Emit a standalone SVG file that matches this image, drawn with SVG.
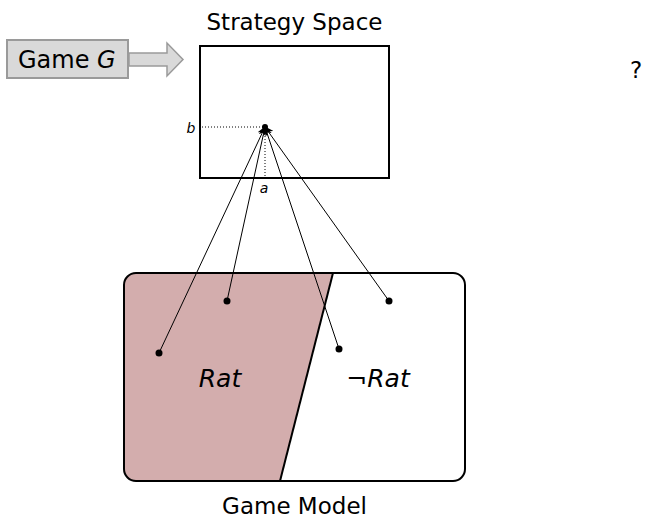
<svg xmlns="http://www.w3.org/2000/svg" width="645" height="519" viewBox="0 0 645 519">
  <style>
    text { font-family: "DejaVu Sans", "Liberation Sans", sans-serif; fill: #000; }
    .title { font-size: 23px; }
    .it { font-style: italic; }
    .box { fill: #fff; stroke: #000; stroke-width: 2; }
    .link { stroke: #000; stroke-width: 1; fill: none; marker-end: url(#head); }
    .guide { stroke: #000; stroke-width: 1; stroke-dasharray: 1 2; fill: none; }
    .dot { fill: #000; }
  </style>
  <defs>
    <marker id="head" viewBox="0 0 10 10" refX="9" refY="5" markerWidth="9" markerHeight="9" markerUnits="userSpaceOnUse" orient="auto">
      <path d="M0,0 L10,5 L0,10 L3,5 Z" fill="#000"/>
    </marker>
    <clipPath id="modelClip">
      <rect x="124" y="273" width="341" height="208" rx="12"/>
    </clipPath>
  </defs>

  <!-- input game -->
  <g id="game">
    <rect x="7" y="40" width="121" height="38" fill="#d9d9d9" stroke="#9a9a9a" stroke-width="2"/>
    <text x="18" y="68" font-size="24">Game <tspan class="it">G</tspan></text>
  </g>
  <g id="feed">
    <path d="M129,53 L167,53 L167,43 L183,59.5 L167,76 L167,66 L129,66 Z" fill="#d9d9d9" stroke="#9a9a9a" stroke-width="1.5"/>
  </g>

  <!-- strategy space -->
  <g id="strategy-space">
    <text class="title" x="294.5" y="30" text-anchor="middle">Strategy Space</text>
    <rect class="box" x="200" y="46" width="189" height="132"/>
    <line class="guide" x1="202" y1="127" x2="265" y2="127"/>
    <line class="guide" x1="265" y1="127" x2="265" y2="177"/>
    <text class="it" x="191" y="133" font-size="14" text-anchor="middle">b</text>
    <text class="it" x="264" y="193" font-size="14" text-anchor="middle">a</text>
    <circle class="dot" cx="265" cy="127" r="3"/>
  </g>

  <g id="unknown">
    <text x="636" y="78" font-size="23" text-anchor="middle">?</text>
  </g>

  <!-- game model -->
  <g id="game-model">
    <rect x="124" y="273" width="341" height="208" rx="12" fill="#fff"/>
    <polygon points="110,260 333,273 280,481 110,495" fill="#d3adad" clip-path="url(#modelClip)"/>
    <line x1="333" y1="273" x2="280" y2="481" stroke="#000" stroke-width="2"/>
    <rect x="124" y="273" width="341" height="208" rx="12" fill="none" stroke="#000" stroke-width="2"/>
    <text class="it" x="220" y="387" font-size="25" text-anchor="middle">Rat</text>
    <text x="378" y="387" font-size="25" text-anchor="middle">¬<tspan class="it">Rat</tspan></text>
    <text class="title" x="294.5" y="514" text-anchor="middle">Game Model</text>
  </g>

  <!-- profile points -->
  <g id="profiles">
    <circle class="dot" cx="159" cy="353" r="3.5"/>
    <circle class="dot" cx="227" cy="301" r="3.5"/>
    <circle class="dot" cx="339" cy="349" r="3.5"/>
    <circle class="dot" cx="389" cy="301" r="3.5"/>
  </g>

  <!-- mappings into the strategy space -->
  <g id="connectors">
    <line class="link" x1="159" y1="353" x2="265" y2="127"/>
    <line class="link" x1="227" y1="301" x2="265" y2="127"/>
    <line class="link" x1="339" y1="349" x2="265" y2="127"/>
    <line class="link" x1="389" y1="301" x2="265" y2="127"/>
  </g>
</svg>
